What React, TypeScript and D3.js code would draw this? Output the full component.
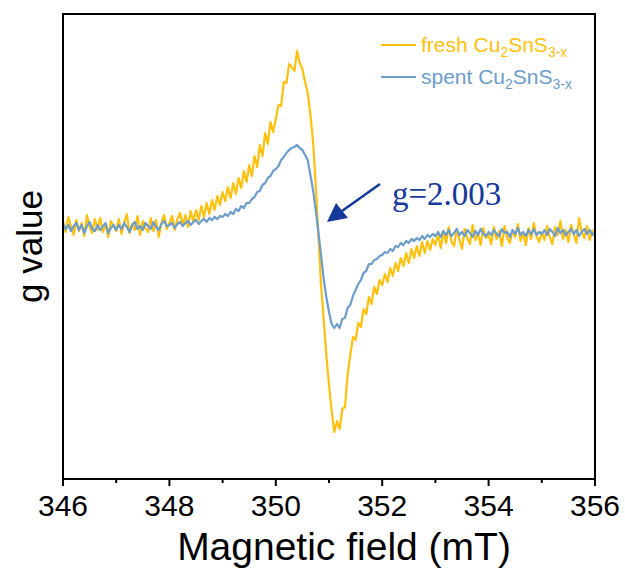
import React from "react";
import * as d3 from "d3";

const FIELD_START = 346;
const FIELD_STEP = 0.05;

// fresh Cu2SnS3-x intensity (a.u.), 346.00 .. 356.00 in 0.05 mT steps
const freshValues: number[] = [
  6, -5, 10, 1, -8, 7, -4, 4, -9, 12, 0, -6, 8, -3, 9, -5, 3, -10, 6, 1,
  -4, 8, -7, 4, 13, -6, 3, -3, 11, -8, 6, -1, -5, 9, -4, 7, -10, 4, 12, -2,
  4, 11, -3, 8, 14, 2, 12, 0, 16, 5, 17, 7, 21, 10, 24, 13, 27, 17, 31, 22,
  35, 26, 40, 29, 44, 33, 49, 39, 56, 45, 62, 51, 71, 60, 82, 71, 94, 83, 105, 95,
  108, 122, 121, 145, 144, 163, 160, 156, 176, 164, 158, 145, 134, 112, 86, 42, -8, -58, -92, -128,
  -158, -184, -205, -194, -202, -182, -180, -148, -128, -110, -113, -96, -100, -82, -87, -70, -77, -60, -67, -53,
  -58, -47, -55, -41, -49, -36, -44, -31, -39, -26, -36, -22, -31, -19, -29, -15, -26, -14, -23, -12,
  -18, -7, -21, -5, -16, 0, -14, -19, -3, -12, -22, -2, -11, -17, 2, -13, -6, -18, -1, -11,
  -8, -17, 0, -12, -4, -19, 1, -11, -16, -3, -10, 3, -14, -6, -18, -1, -12, 4, -9, -15,
  -5, -13, 1, -10, -17, 0, -8, 6, -12, -3, -15, 2, -7, -16, 9, -5, -11, 1, -13, -4, -3,
];

// spent Cu2SnS3-x intensity (a.u.)
const spentValues: number[] = [
  3, -2, 2, -4, 1, 4, -3, 2, -6, 1, 5, -2, -4, 2, -3, 1, 4, -6, -1, 2,
  -3, 2, -2, 4, 0, -5, 2, 5, -2, 1, -3, 4, 1, -2, 5, 0, -3, 3, 6, 1,
  2, 4, -1, 3, 5, 1, 4, 6, 2, 5, 7, 3, 6, 8, 5, 9, 7, 10, 8, 11,
  10, 13, 11, 15, 13, 18, 16, 21, 19, 24, 24, 28, 30, 35, 36, 42, 44, 49, 51, 56,
  58, 61, 67, 70, 74, 77, 79, 80, 82, 79, 77, 72, 67, 52, 37, 17, -5, -28, -52, -70,
  -85, -97, -101, -97, -101, -92, -91, -81, -78, -69, -63, -57, -53, -46, -44, -37, -37, -33, -32, -29,
  -28, -25, -26, -22, -24, -19, -20, -16, -18, -14, -16, -12, -14, -11, -13, -9, -12, -8, -10, -7,
  -9, -5, -10, -4, -8, -3, -9, -6, -2, -8, -5, -9, -3, -6, -10, -4, -8, -2, -7, -9,
  -5, -8, -3, -7, -9, -2, -6, -5, -10, -3, -7, -1, -8, -5, -9, -3, -7, -2, -8, -5,
  -7, -3, -8, -2, -5, -9, -1, -6, -3, -8, -5, -2, -7, -3, -9, -5, -2, -7, -3, -8, -5,
];

const majorTicks = [346, 348, 350, 352, 354, 356];
const minorTicks = [347, 349, 351, 353, 355];

const FRESH = "#FFC10E";
const SPENT = "#6C9DCB";
const ARROW = "#15399A";

export default function App() {
  const W = 625, H = 576;
  const left = 63, right = 595, top = 14, bottom = 479;
  const x = d3.scaleLinear().domain([346, 356]).range([left, right]);
  const y = d3.scaleLinear().domain([-252, 213]).range([bottom, top]);

  const toPts = (vals: number[]) =>
    vals.map((v, i) => [FIELD_START + i * FIELD_STEP, v] as [number, number]);
  const line = d3
    .line<[number, number]>()
    .x((d) => x(d[0]))
    .y((d) => y(d[1]));

  const font = "Arial, 'Liberation Sans', sans-serif";

  return (
    <svg width={W} height={H} style={{ position: "absolute", left: 0, top: 0, background: "#fff" }}>
      <defs>
        <clipPath id="plotclip">
          <rect x={left} y={top} width={right - left} height={bottom - top} />
        </clipPath>
      </defs>
      <g clipPath="url(#plotclip)">
        <path d={line(toPts(freshValues)) || ""} fill="none" stroke={FRESH} strokeWidth={2.2} strokeLinejoin="round" />
        <path d={line(toPts(spentValues)) || ""} fill="none" stroke={SPENT} strokeWidth={2.2} strokeLinejoin="round" />
      </g>
      <rect x={left} y={top} width={right - left} height={bottom - top} fill="none" stroke="#000" strokeWidth={2} />
      {majorTicks.map((t) => (
        <g key={"M" + t}>
          <line x1={x(t)} x2={x(t)} y1={bottom} y2={bottom + 7} stroke="#000" strokeWidth={2} />
          <text x={x(t)} y={bottom + 37} textAnchor="middle" fontFamily={font} fontSize={30} fill="#000">
            {t}
          </text>
        </g>
      ))}
      {minorTicks.map((t) => (
        <line key={"m" + t} x1={x(t)} x2={x(t)} y1={bottom} y2={bottom + 4} stroke="#000" strokeWidth={2} />
      ))}
      <text x={344} y={560} textAnchor="middle" fontFamily={font} fontSize={39} fill="#000">
        Magnetic field (mT)
      </text>
      <text
        transform={`translate(42, ${(top + bottom) / 2}) rotate(-90)`}
        textAnchor="middle"
        fontFamily={font}
        fontSize={35}
        fill="#000"
      >
        g value
      </text>
      {/* legend */}
      <line x1={381} x2={416} y1={45} y2={45} stroke={FRESH} strokeWidth={2} />
      <text x={421} y={52} fontFamily={font} fontSize={21} fill={FRESH}>
        fresh Cu<tspan fontSize={14} dy={5}>2</tspan>
        <tspan dy={-5}>SnS</tspan>
        <tspan fontSize={14} dy={5}>3-x</tspan>
      </text>
      <line x1={381} x2={416} y1={77} y2={77} stroke={SPENT} strokeWidth={2} />
      <text x={421} y={84} fontFamily={font} fontSize={21} fill={SPENT}>
        spent Cu<tspan fontSize={14} dy={5}>2</tspan>
        <tspan dy={-5}>SnS</tspan>
        <tspan fontSize={14} dy={5}>3-x</tspan>
      </text>
      {/* annotation */}
      <line x1={380} x2={342} y1={184} y2={211} stroke={ARROW} strokeWidth={2.5} />
      <path d="M327,222 L336,203 L348,218 Z" fill={ARROW} />
      <text x={392} y={205} fontFamily="'Liberation Serif', 'Times New Roman', serif" fontSize={33} fill={ARROW}>
        g=2.003
      </text>
    </svg>
  );
}
